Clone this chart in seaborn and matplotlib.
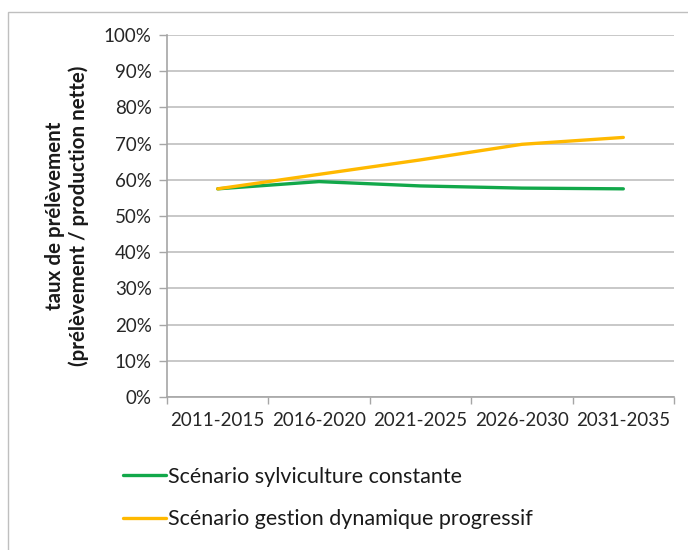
import matplotlib
matplotlib.use("Agg")
import matplotlib.pyplot as plt
import seaborn as sns
import pandas as pd
from matplotlib.patches import Rectangle
from matplotlib.ticker import FixedLocator, PercentFormatter

periods = ["2011-2015", "2016-2020", "2021-2025", "2026-2030", "2031-2035"]
constante = [57.5, 59.5, 58.3, 57.7, 57.5]
dynamique = [57.5, 61.5, 65.5, 69.8, 71.7]
series_names = ["Scénario sylviculture constante",
                "Scénario gestion dynamique progressif"]
series_colors = ["#12A84A", "#FFB900"]

df = pd.DataFrame({
    "periode": periods * 2,
    "taux": constante + dynamique,
    "scenario": [series_names[0]] * len(periods) + [series_names[1]] * len(periods),
})
df["x"] = df["periode"].map({p: i for i, p in enumerate(periods)})

sns.set_theme(style="white")
plt.rcParams["font.family"] = ["Lato", "DejaVu Sans"]

fig = plt.figure(figsize=(6.88, 5.5), dpi=100)
ax = fig.add_axes([0.2427, 0.2782, 0.7370, 0.6582])

# outer frame of the chart area
fig.patches.append(Rectangle((8 / 688, -0.05), 1.2, 1 - 12 / 550 + 0.05,
                             transform=fig.transFigure, fill=False,
                             edgecolor="#BFBFBF", linewidth=1.0))

sns.lineplot(data=df, x="x", y="taux", hue="scenario", palette=series_colors,
             hue_order=series_names, linewidth=2.4, ax=ax, legend=True)

ax.set_xlim(-0.5, len(periods) - 0.5)
ax.set_ylim(0, 100)
ax.set_yticks(range(0, 101, 10))
ax.yaxis.set_major_formatter(PercentFormatter(decimals=0))
ax.set_xticks(range(len(periods)))
ax.set_xticklabels(periods)
ax.xaxis.set_minor_locator(FixedLocator([i - 0.5 for i in range(len(periods) + 1)]))
ax.tick_params(axis="x", which="major", length=0, pad=11, labelsize=13.5, colors="#262626")
ax.tick_params(axis="x", which="minor", length=5, color="#A6A6A6", width=1, bottom=True)
ax.tick_params(axis="y", which="major", length=6, color="#A6A6A6", width=1, left=True,
               labelsize=13.5, colors="#262626", pad=5)

ax.grid(axis="y", color="#BFBFBF", linewidth=1.2)
ax.set_axisbelow(True)
for side in ["top", "right"]:
    ax.spines[side].set_visible(False)
for side in ["left", "bottom"]:
    ax.spines[side].set_color("#A6A6A6")
    ax.spines[side].set_linewidth(1.2)

ax.set_xlabel("")
ax.set_ylabel("taux de prélèvement\n(prélèvement / production nette)",
              fontsize=14.8, fontweight="bold", color="#1a1a1a",
              linespacing=1.2)
ax.yaxis.set_label_coords(-0.154, 0.5)

handles, labels = ax.get_legend_handles_labels()
ax.legend(handles, labels, loc="upper left", bbox_to_anchor=(114 / 688, 1 - 458 / 550),
          bbox_transform=fig.transFigure, frameon=False, fontsize=15.5,
          handlelength=2.0, handletextpad=0.1, labelspacing=1.05,
          labelcolor="#1a1a1a", borderaxespad=0)

fig.savefig("out.png", dpi=100)
